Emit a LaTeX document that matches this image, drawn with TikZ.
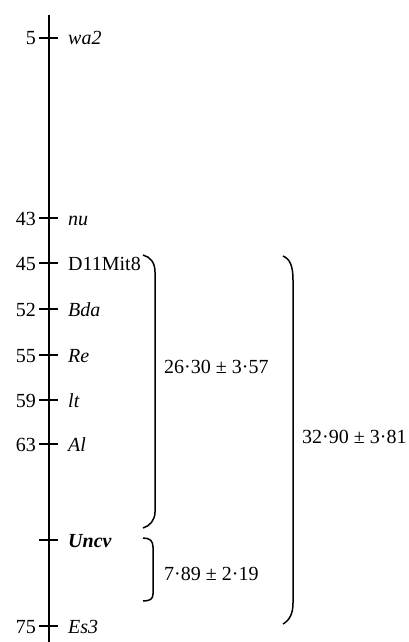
\documentclass[tikz,border=0pt]{standalone}
\usepackage{fontspec}
\setmainfont{Liberation Serif}
\begin{document}
\begin{tikzpicture}[x=1pt,y=-1pt,
  num/.style={anchor=base east,inner sep=0pt,font=\fontsize{20}{24}\selectfont},
  lab/.style={anchor=base west,inner sep=0pt,font=\fontsize{20}{24}\selectfont\itshape},
  val/.style={anchor=base west,inner sep=0pt,font=\fontsize{20}{24}\selectfont},
  axis/.style={line width=2pt},
  tick/.style={line width=1.8pt},
  brace/.style={line width=1.5pt}]
\useasboundingbox (0,0) rectangle (409,642);
\coordinate (top) at (48.5,15);
\coordinate (bot) at (48.5,642);
\draw[axis] (top) -- (bot);
% ticks and labels
\foreach \n/\y/\num/\txt in {a/38/5/wa2, b/218/43/nu, d/309/52/Bda, e/355/55/Re, f/400/59/lt, g/444/63/Al, i/626/75/Es3}{
  \coordinate (t\n l) at (39,\y);
  \coordinate (t\n r) at (58,\y);
  \draw[tick] (t\n l) -- (t\n r);
  \node[num] (n\n) at (36,\y+7) {\num};
  \node[lab] (l\n) at (68,\y+7) {\txt};
}
\coordinate (tcl) at (39,263); \coordinate (tcr) at (58,263);
\draw[tick] (tcl) -- (tcr);
\node[num] (nc) at (36,270) {45};
\node[val] (lc) at (68,270) {D11Mit8};
\coordinate (thl) at (39,540); \coordinate (thr) at (58,540);
\draw[tick] (thl) -- (thr);
\node[lab,font=\fontsize{20}{24}\selectfont\bfseries\itshape] (lh) at (68,547) {Uncv};
% braces
\coordinate (b1a) at (143,255); \coordinate (b1b) at (155,272);
\coordinate (b1c) at (155,512); \coordinate (b1d) at (143,528);
\draw[brace] (b1a) .. controls (150,257) and (155,262) .. (b1b) -- (b1c)
  .. controls (155,520) and (150,526) .. (b1d);
\coordinate (b2a) at (143,538); \coordinate (b2b) at (153,547);
\coordinate (b2c) at (153,594); \coordinate (b2d) at (143,601);
\draw[brace] (b2a) .. controls (150,538) and (153,541) .. (b2b) -- (b2c)
  .. controls (153,599) and (150,601) .. (b2d);
\coordinate (b3a) at (283,256); \coordinate (b3b) at (293,280);
\coordinate (b3c) at (293,603); \coordinate (b3d) at (283,624);
\draw[brace] (b3a) .. controls (290,259) and (293,266) .. (b3b) -- (b3c)
  .. controls (293,613) and (290,620) .. (b3d);
\node[val] (v1) at (164,373) {26·30 ± 3·57};
\node[val] (v2) at (164,580) {7·89 ± 2·19};
\node[val] (v3) at (302,443) {32·90 ± 3·81};
\end{tikzpicture}
\end{document}
